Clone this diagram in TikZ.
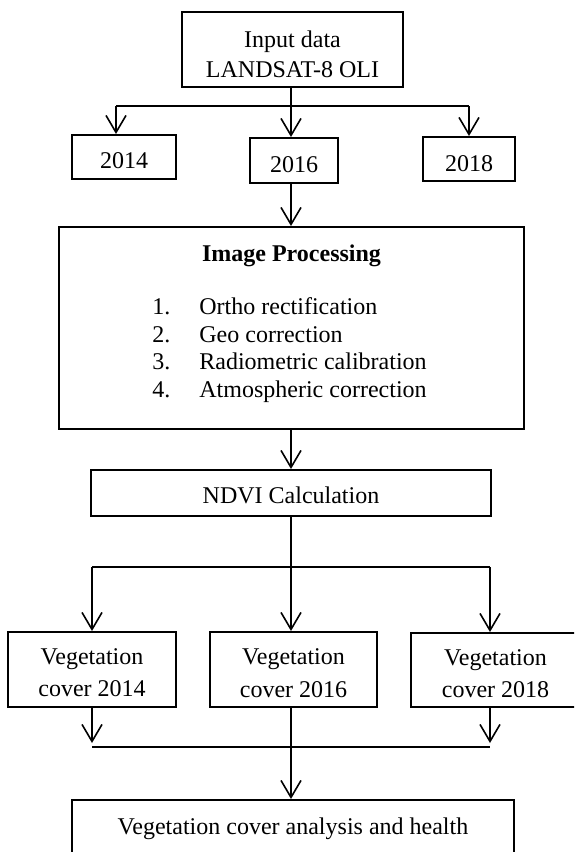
\documentclass[tikz,border=0pt]{standalone}
\usepackage{fontspec}
\setmainfont{Liberation Serif}
\usetikzlibrary{arrows.meta}
\begin{document}
\begin{tikzpicture}[x=0.5pt,y=-0.5pt,
 box/.style={draw,line width=1pt,inner sep=0pt},
 lbl/.style={anchor=base,inner sep=0pt,font=\fontsize{12}{14}\selectfont},
 lw/.style={lbl,anchor=base west},
 conn/.style={line width=0.8pt},
 arr/.style={conn,-{Straight Barb[length=8.5pt,width=10pt]}}]
\useasboundingbox (0,0) rectangle (574,852);
\clip (0,0) rectangle (574,852);
% boxes
\node[box,minimum width=110.5pt,minimum height=37.5pt] (top) at (292.5,49.5) {};
\node[box,minimum width=52pt,minimum height=22pt] (y14) at (124,157) {};
\node[box,minimum width=44pt,minimum height=22.5pt] (y16) at (294,160.5) {};
\node[box,minimum width=46pt,minimum height=22pt] (y18) at (469,159) {};
\node[box,minimum width=232.5pt,minimum height=101pt] (ip) at (291.5,328) {};
\node[box,minimum width=200pt,minimum height=23pt] (nd) at (291,493) {};
\node[box,minimum width=84pt,minimum height=37.5pt] (v14) at (92,669.5) {};
\node[box,minimum width=83.5pt,minimum height=37.5pt] (v16) at (293.5,669.5) {};
\node[box,minimum width=84pt,minimum height=37pt] (v18) at (495,670) {};
\node[box,minimum width=221pt,minimum height=40pt] (fin) at (293,840) {};
% texts
\node[lbl] (t1) at (292.5,47) {Input data};
\node[lbl] (t2) at (292.5,77) {LANDSAT-8 OLI};
\node[lbl] (ty14) at (124,168) {2014};
\node[lbl] (ty16) at (294,172) {2016};
\node[lbl] (ty18) at (469,171) {2018};
\node[lbl,font=\fontsize{12}{14}\selectfont\bfseries] (tip) at (291.5,261) {Image Processing};
\node[lw] (n1) at (152,314) {1.};
\node[lw] (n2) at (152,342) {2.};
\node[lw] (n3) at (152,369) {3.};
\node[lw] (n4) at (152,397) {4.};
\node[lw] (s1) at (199,314) {Ortho rectification};
\node[lw] (s2) at (199,342) {Geo correction};
\node[lw] (s3) at (199,369) {Radiometric calibration};
\node[lw] (s4) at (199,397) {Atmospheric correction};
\node[lbl] (tnd) at (291,503) {NDVI Calculation};
\node[lbl] (a14) at (92,664) {Vegetation};
\node[lbl] (b14) at (92,696) {cover 2014};
\node[lbl] (a16) at (293.5,664) {Vegetation};
\node[lbl] (b16) at (293.5,697) {cover 2016};
\node[lbl] (a18) at (495.5,665) {Vegetation};
\node[lbl] (b18) at (495.5,697) {cover 2018};
\node[lbl] (tfin) at (293,834) {Vegetation cover analysis and health};
% connectors top
\coordinate (jt) at (291,106);
\coordinate (jl) at (116,106);
\coordinate (jr) at (469,106);
\draw[conn] (top.south -| jt) -- (jt);
\draw[conn] (jl) -- (jr);
\draw[arr] (jl) -- (jl |- y14.north);
\draw[arr] (jt) -- (jt |- y16.north);
\draw[arr] (jr) -- (jr |- y18.north);
\draw[arr] (y16.south -| jt) -- (ip.north -| jt);
\draw[arr] (ip.south -| jt) -- (nd.north -| jt);
% middle split
\coordinate (jm) at (291,567);
\coordinate (jml) at (92,567);
\coordinate (jmr) at (490,567);
\draw[conn] (nd.south -| jm) -- (jm);
\draw[conn] (jml) -- (jmr);
\draw[arr] (jml) -- (jml |- v14.north);
\draw[arr] (jm) -- (jm |- v16.north);
\draw[arr] (jmr) -- (jmr |- v18.north);
% bottom merge
\coordinate (jb) at (291,747);
\coordinate (jbl) at (92,747);
\coordinate (jbr) at (490,747);
\draw[arr] (v14.south -| jbl) -- ([yshift=2pt]jbl);
\draw[arr] (v18.south -| jbr) -- ([yshift=2pt]jbr);
\draw[conn] (jbl) -- (jbr);
\draw[arr] (v16.south -| jb) -- (fin.north -| jb);
\end{tikzpicture}
\end{document}
